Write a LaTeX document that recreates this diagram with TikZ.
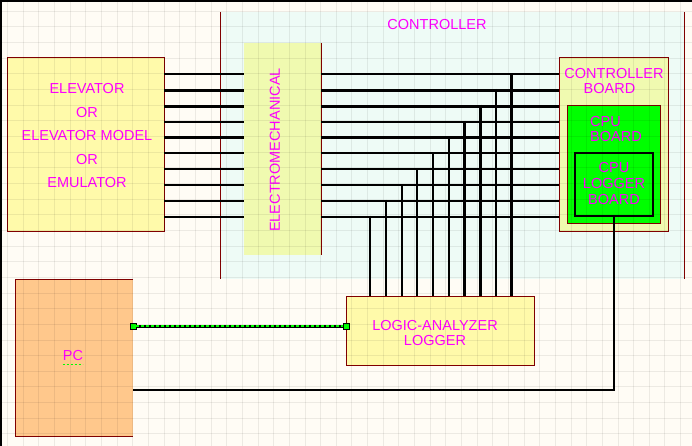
\documentclass[tikz,border=0pt]{standalone}
\usepackage{fontspec}
\setmainfont{Liberation Sans}
\usetikzlibrary{positioning}

\definecolor{bgcream}{HTML}{FFFCF5}
\definecolor{ctrlcyan}{HTML}{EEFBF6}
\definecolor{elevyellow}{HTML}{FFFAAA}
\definecolor{boardyellow}{HTML}{F0FAB0}
\definecolor{pcorange}{HTML}{FFC88C}
\definecolor{cpugreen}{HTML}{00FF00}
\definecolor{edgered}{HTML}{800000}
\definecolor{txtmagenta}{HTML}{FF00FF}

\begin{document}
\begin{tikzpicture}[x=1pt, y=-1pt,
    box/.style={rectangle, draw=edgered, line width=1pt, inner sep=0pt, outer sep=0pt, anchor=north west},
    bare/.style={rectangle, inner sep=0pt, outer sep=0pt, anchor=north west},
    lbl/.style={text=txtmagenta, font=\fontsize{14.5}{15.5}\selectfont, align=center, inner sep=0pt},
    sqr/.style={rectangle, draw=black, fill=cpugreen, line width=0.8pt, minimum size=6pt, inner sep=0pt}]

    % page and frame
    \useasboundingbox (0,0) rectangle (692,446);
    \fill[bgcream] (0,0) rectangle (692,446);
    \draw[line width=2pt] (1,446) -- (1,1) -- (692,1);

    % controller area
    \node[bare, fill=ctrlcyan, minimum width=464pt, minimum height=267pt] (ctrl) at (220,12) {};
    \draw[edgered, line width=1pt] (ctrl.north west) -- (ctrl.south west);
    \draw[edgered, line width=1pt] (ctrl.north east) -- (ctrl.south east);
    \node[lbl] at (437,25) {CONTROLLER};

    % blocks
    \node[box, fill=elevyellow, minimum width=157pt, minimum height=173pt] (elev) at (7,58) {};
    \node[lbl, font=\fontsize{14.5}{23.5}\selectfont] at (87,136) {ELEVATOR\\OR\\ELEVATOR MODEL\\OR\\EMULATOR};

    \node[bare, fill=boardyellow, minimum width=77pt, minimum height=212pt] (emech) at (244,43) {};
    \draw[edgered, line width=1pt] (emech.north east) -- (emech.south east);
    \node[lbl, rotate=90] at (275,150) {ELECTROMECHANICAL};

    \node[box, fill=boardyellow, minimum width=109pt, minimum height=173pt] (cboard) at (559,58) {};
    \node[lbl] at (614,81) {CONTROLLER\\\hspace*{-9pt}BOARD};

    \node[box, fill=cpugreen, minimum width=93pt, minimum height=117pt] (cpu) at (567,106) {};
    \node[lbl, align=left, anchor=west] at (590,129) {CPU\\BOARD};

    \node[box, draw=black, line width=2.5pt, fill=cpugreen, minimum width=78pt, minimum height=63pt] (cplog) at (575,153) {};
    \node[lbl, font=\fontsize{14.5}{16}\selectfont] at (614,184) {CPU\\LOGGER\\BOARD};

    \node[box, fill=elevyellow, minimum width=188pt, minimum height=69pt] (la) at (346,296) {};
    \node[lbl] at (435,333) {LOGIC-ANALYZER\\LOGGER};

    \node[bare, fill=pcorange, minimum width=118pt, minimum height=157pt] (pc) at (15,279) {};
    \draw[edgered, line width=1pt] (pc.north east) -- (pc.north west) -- (pc.south west) -- (pc.south east);
    \node[lbl] (pctxt) at (73,356) {PC};
    \draw[cpugreen, line width=1pt, dash pattern=on 2pt off 2pt] (pctxt.south west) ++(0,3) -- ++(20,0);

    % signal wires
    \foreach \i/\hw/\vw in {1/2/3, 2/3/2, 3/3/3, 4/2/3, 5/3/2, 6/2/2, 7/2/2, 8/2/2, 9/2/2, 10/2/2} {
        \pgfmathsetmacro{\wy}{74.5+(\i-1)*15.8}
        \pgfmathsetmacro{\wx}{511.5-(\i-1)*15.7}
        \draw[line width=\hw pt] (elev.east |- 0,\wy) -- (emech.west |- 0,\wy);
        \draw[line width=\hw pt] (emech.east |- 0,\wy) -- (cboard.west |- 0,\wy);
        \draw[line width=\vw pt] (\wx,\wy-\hw/2) -- (la.north -| \wx,0);
    }

    % logger to pc
    \draw[line width=2.5pt] (cplog.south) |- (pc.east |- 0,390);

    % pc to logic analyzer link
    \node[sqr] (lkpc) at (pc.east |- 0,326) {};
    \node[sqr] (lkla) at (la.west |- 0,326) {};
    \draw[line width=3pt] (lkpc) -- (lkla);
    \draw[cpugreen, line width=1.2pt, dash pattern=on 3pt off 2pt] (lkpc) -- (lkla);

    % grid
    \foreach \k in {0,...,43} \draw[black, opacity=0.07, line width=1pt] (7.65+\k*15.65,0) -- (7.65+\k*15.65,446);
    \foreach \k in {0,...,28} \draw[black, opacity=0.07, line width=1pt] (0,11.35+\k*15.65) -- (692,11.35+\k*15.65);
\end{tikzpicture}
\end{document}
